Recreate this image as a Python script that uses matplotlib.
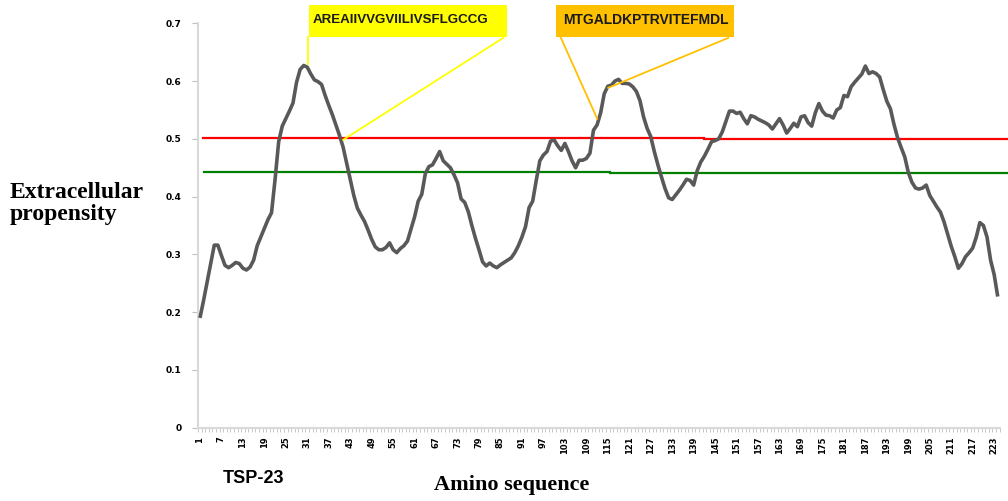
import matplotlib.pyplot as plt
import numpy as np
from matplotlib.patches import Rectangle

# extracellular propensity per residue
propensity = [
    0.190, 0.220, 0.252, 0.285, 0.316, 0.316, 0.298, 0.281, 0.277, 0.281,
    0.286, 0.284, 0.276, 0.273, 0.278, 0.290, 0.315, 0.330, 0.345, 0.360,
    0.372, 0.430, 0.495, 0.522, 0.535, 0.548, 0.562, 0.598, 0.620, 0.627,
    0.624, 0.612, 0.602, 0.599, 0.594, 0.575, 0.558, 0.542, 0.524, 0.506,
    0.486, 0.458, 0.430, 0.402, 0.380, 0.368, 0.357, 0.342, 0.326, 0.313,
    0.308, 0.308, 0.312, 0.320, 0.308, 0.303, 0.310, 0.315, 0.323, 0.344,
    0.365, 0.392, 0.404, 0.440, 0.452, 0.455, 0.466, 0.478, 0.462, 0.456,
    0.450, 0.438, 0.424, 0.396, 0.390, 0.374, 0.350, 0.328, 0.308, 0.287,
    0.280, 0.285, 0.280, 0.277, 0.282, 0.286, 0.290, 0.294, 0.303, 0.315,
    0.330, 0.348, 0.381, 0.392, 0.428, 0.462, 0.472, 0.478, 0.496, 0.498,
    0.488, 0.480, 0.492, 0.478, 0.462, 0.450, 0.463, 0.463, 0.466, 0.475,
    0.515, 0.524, 0.545, 0.578, 0.591, 0.593, 0.600, 0.603, 0.596, 0.596,
    0.595, 0.590, 0.582, 0.566, 0.538, 0.518, 0.504, 0.478, 0.455, 0.434,
    0.414, 0.398, 0.395, 0.403, 0.411, 0.420, 0.430, 0.428, 0.420, 0.445,
    0.460, 0.470, 0.482, 0.495, 0.497, 0.500, 0.512, 0.530, 0.548, 0.548,
    0.544, 0.546, 0.535, 0.526, 0.540, 0.538, 0.534, 0.531, 0.528, 0.524,
    0.517, 0.526, 0.535, 0.524, 0.510, 0.518, 0.527, 0.521, 0.538, 0.540,
    0.528, 0.522, 0.545, 0.561, 0.548, 0.541, 0.540, 0.536, 0.550, 0.554,
    0.575, 0.573, 0.590, 0.598, 0.605, 0.612, 0.626, 0.613, 0.616, 0.613,
    0.607, 0.585, 0.565, 0.552, 0.525, 0.502, 0.485, 0.469, 0.442, 0.425,
    0.415, 0.413, 0.415, 0.420, 0.402, 0.392, 0.382, 0.373, 0.356, 0.335,
    0.314, 0.296, 0.276, 0.284, 0.296, 0.303, 0.311, 0.330, 0.355, 0.350,
    0.330, 0.290, 0.265, 0.227,
]
positions = list(range(1, len(propensity) + 1))
tick_positions = positions[::6]
tick_labels = [str(p) for p in tick_positions]

# threshold lines (drawn in two pieces in the original)
red_level = [0.502, 0.5004]
green_level = [0.4424, 0.4407]

seq1 = 'AREAIIVVGVIILIVSFLGCCG'
seq2 = 'MTGALDKPTRVITEFMDL'

fig = plt.figure(figsize=(10.08, 5.01), dpi=100)
ax = fig.add_axes([0.1966, 0.1463, 0.795, 0.8072])

ax.plot(positions, propensity, color='#595959', lw=2.6, solid_joinstyle='round',
        solid_capstyle='butt', zorder=4)

# red / green cut-off lines
ax.plot([1.84, 141.9], [red_level[0]] * 2, color='#ff0000', lw=1.6, clip_on=False, zorder=3)
ax.plot([141.9, 226.5], [red_level[1]] * 2, color='#ff0000', lw=1.6, clip_on=False, zorder=3)
ax.plot([2.1, 115.6], [green_level[0]] * 2, color='#008000', lw=1.6, clip_on=False, zorder=3)
ax.plot([115.6, 226.5], [green_level[1]] * 2, color='#008000', lw=1.6, clip_on=False, zorder=3)

ax.set_xlim(0.5, len(propensity) + 0.5)
ax.set_ylim(0, 0.7)

ax.set_yticks(np.arange(0, 0.71, 0.1))
ax.set_yticklabels(['0', '0.1', '0.2', '0.3', '0.4', '0.5', '0.6', '0.7'])
ax.set_xticks(tick_positions)
ax.set_xticklabels(tick_labels, rotation=90)
ax.set_xticks(np.arange(0.5, len(propensity) + 1, 1), minor=True)

for lab in ax.get_yticklabels():
    lab.set_fontweight('bold')
for lab in ax.get_xticklabels():
    lab.set_fontweight('bold')
ax.tick_params(axis='y', length=4, width=0.8, color='#bfbfbf', pad=8, labelsize=6.5)
ax.tick_params(axis='x', which='major', length=0, pad=6.5, labelsize=6)
ax.tick_params(axis='x', which='minor', length=3, width=0.6, color='#bfbfbf')

for s in ['top', 'right']:
    ax.spines[s].set_visible(False)
for s in ['left', 'bottom']:
    ax.spines[s].set_color('#d9d9d9')
    ax.spines[s].set_linewidth(1.5)

# sequence call-outs
ax.add_patch(Rectangle((31.56, 0.6761), 86.9 - 31.56, 0.7323 - 0.6761,
                       facecolor='#ffff00', edgecolor='none', clip_on=False, zorder=5))
ax.text(32.6, 0.7055, seq1, fontsize=9.6, fontweight='bold', family='Liberation Sans',
        color='#1a1a1a', va='center', ha='left', zorder=6)
ax.plot([31.27, 31.27], [0.6761, 0.6303], color='#ffff00', lw=1.3, clip_on=False, zorder=5)
ax.plot([85.77, 41.05], [0.6747, 0.4984], color='#ffff00', lw=1.3, clip_on=False, zorder=5)

ax.add_patch(Rectangle((100.53, 0.6761), 150.3 - 100.53, 0.7323 - 0.6761,
                       facecolor='#ffc000', edgecolor='none', clip_on=False, zorder=5))
ax.text(102.46, 0.7055, seq2, fontsize=10, fontweight='bold', family='Liberation Sans',
        color='#1a1a1a', va='center', ha='left', zorder=6)
ax.plot([101.82, 112.05], [0.6758, 0.5347], color='#ffc000', lw=1.3, clip_on=False, zorder=5)
ax.plot([148.66, 115.12], [0.6747, 0.5883], color='#ffc000', lw=1.3, clip_on=False, zorder=5)

# axis titles
fig.text(10 / 1008, 1 - 198 / 501, 'Extracellular', fontsize=17, fontweight='bold',
         family='Liberation Serif', ha='left', va='baseline')
fig.text(10 / 1008, 1 - 220 / 501, 'propensity', fontsize=17, fontweight='bold',
         family='Liberation Serif', ha='left', va='baseline')
fig.text(512 / 1008, 1 - 490 / 501, 'Amino sequence', fontsize=16, fontweight='bold',
         family='Liberation Serif', ha='center', va='baseline')
fig.text(223 / 1008, 1 - 483 / 501, 'TSP-23', fontsize=13, fontweight='bold',
         family='Liberation Sans', ha='left', va='baseline')

plt.savefig('out.png', dpi=100)
